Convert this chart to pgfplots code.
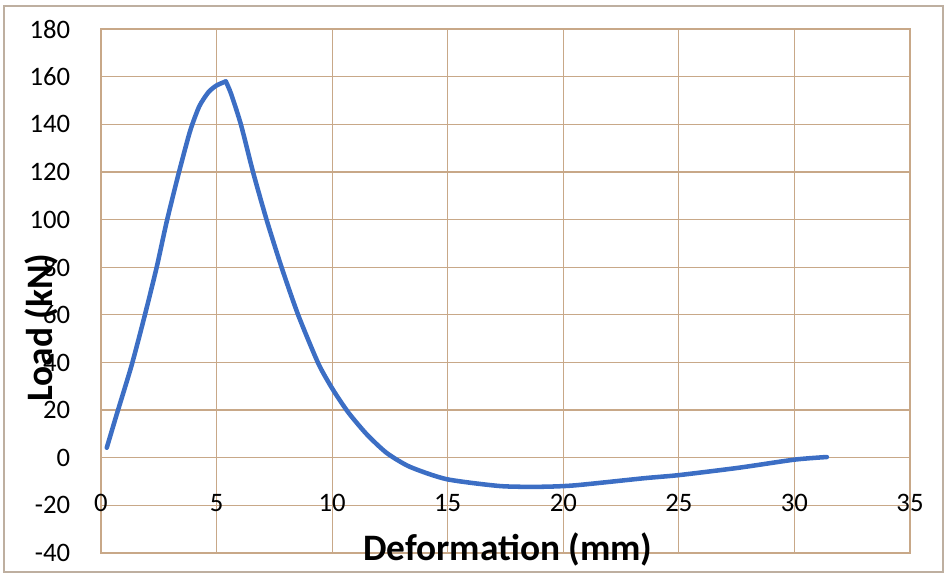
\documentclass[border=0pt]{standalone}
\usepackage{pgfplots}
\pgfplotsset{compat=1.18}
\usepackage{fontspec}
\setmainfont{Carlito}
\definecolor{gridtan}{RGB}{200,168,136}
\definecolor{framegray}{RGB}{190,175,160}
\definecolor{curveblue}{RGB}{60,110,196}
\begin{document}
\begin{tikzpicture}
\begin{axis}[
  at={(0,0)}, anchor=south west,
  scale only axis,
  width=606.75pt, height=393pt,
  xmin=0, xmax=35, ymin=-40, ymax=180,
  xtick={0,5,...,35}, ytick={-40,-20,...,180},
  grid=major,
  major grid style={gridtan, line width=0.9pt},
  axis line style={gridtan, line width=0.9pt},
  major tick length=0pt,
  /pgf/number format/assume math mode=true,
  tick label style={font=\fontsize{20}{24}\selectfont, inner sep=0pt},
  yticklabel style={anchor=east, xshift=-23pt},
  xticklabel style={anchor=center, yshift=37.5pt},
  xlabel={\textbf{Deformation (mm)}},
  ylabel={\textbf{Load (kN)}},
  label style={font=\fontsize{28}{32}\selectfont},
  xlabel style={at={(axis description cs:0.503,0.006)}, anchor=center},
  ylabel style={at={(axis description cs:-0.073,0.43)}, anchor=center, rotate=0},
]
% rising branch
\addplot[curveblue, line width=3.4pt, smooth, tension=0.4, line cap=round] coordinates {
(0.25,4.2) (0.68,18.2) (1.33,39) (1.90,60) (2.41,80) (2.84,99) (3.35,119)
(3.85,137) (4.25,147.5) (4.65,153.5) (5.0,156.3) (5.4,158)
};
% falling and recovery branch
\addplot[curveblue, line width=3.4pt, smooth, tension=0.4, line cap=round, line join=round] coordinates {
(5.4,158) (5.62,153) (6.05,140) (6.59,119.5) (7.17,99.7) (7.82,79.7)
(8.54,59.7) (9.41,39.4) (10.04,28.5) (10.7,19) (11.5,9.8) (12.36,2)
(13.36,-3.8) (14.95,-9) (17.27,-11.9) (19,-12.2) (20.5,-11.6) (23.5,-8.6)
(25,-7.3) (27.6,-4.2) (30,-0.8) (31.4,0.3)
};
\end{axis}
\draw[framegray, line width=0.8pt] (-72.75pt,-14.25pt) rectangle (631.5pt,410.25pt);
\pgfresetboundingbox
\useasboundingbox (-75.75pt,-16.5pt) rectangle (635.25pt,414.75pt);
\end{tikzpicture}
\end{document}
